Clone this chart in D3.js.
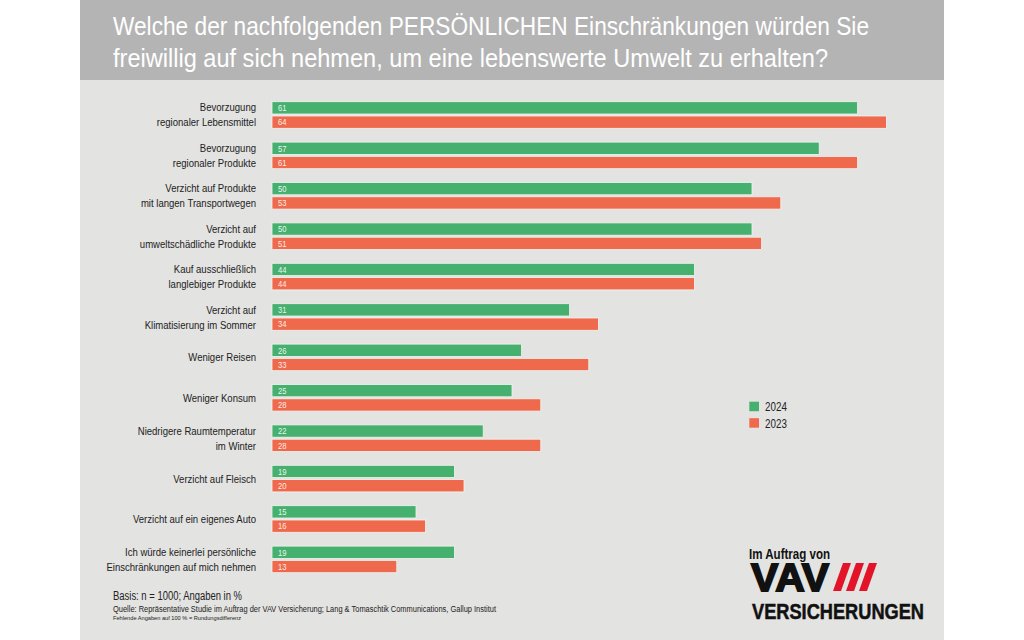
<!DOCTYPE html>
<html><head><meta charset="utf-8">
<script src="https://cdn.jsdelivr.net/npm/d3@7"></script>
<style>
html,body{margin:0;padding:0;background:#fff;}
svg{display:block;}
</style></head>
<body>
<svg id="c" width="1024" height="640"></svg>
<script>
const titleLines = ["Welche der nachfolgenden PERSÖNLICHEN Einschränkungen würden Sie",
                    "freiwillig auf sich nehmen, um eine lebenswerte Umwelt zu erhalten?"];
const categories = [
  ["Bevorzugung","regionaler Lebensmittel"],
  ["Bevorzugung","regionaler Produkte"],
  ["Verzicht auf Produkte","mit langen Transportwegen"],
  ["Verzicht auf","umweltschädliche Produkte"],
  ["Kauf ausschließlich","langlebiger Produkte"],
  ["Verzicht auf","Klimatisierung im Sommer"],
  ["Weniger Reisen"],
  ["Weniger Konsum"],
  ["Niedrigere Raumtemperatur","im Winter"],
  ["Verzicht auf Fleisch"],
  ["Verzicht auf ein eigenes Auto"],
  ["Ich würde keinerlei persönliche","Einschränkungen auf mich nehmen"]
];
const seriesNames = ["2024","2023"];
const values2024 = [61,57,50,50,44,31,26,25,22,19,15,19];
const values2023 = [64,61,53,51,44,34,33,28,28,20,16,13];
const footLines = ["Basis: n = 1000; Angaben in %",
  "Quelle: Repräsentative Studie im Auftrag der VAV Versicherung; Lang & Tomaschtik Communications, Gallup Institut",
  "Fehlende Angaben auf 100 % = Rundungsdifferenz"];

const colors = {"2024":"#46b06f","2023":"#ef6a4c"};
const narrow = "'Liberation Sans Narrow','Arial Narrow','Liberation Sans',sans-serif";

const svg = d3.select("#c");
svg.append("rect").attr("x",80).attr("y",0).attr("width",864).attr("height",640).attr("fill","#e3e3e1");
svg.append("rect").attr("x",80).attr("y",0).attr("width",864).attr("height",80).attr("fill","#b4b4b4");

function fitText(sel, w){
  sel.each(function(){
    const l=this.getComputedTextLength();
    if(l>0) d3.select(this).attr("textLength",w).attr("lengthAdjust","spacingAndGlyphs");
  });
}
// condensed text via horizontal scale transform
function ctext(parent, x, y, f, txt){
  return parent.append("text").attr("transform",`translate(${x},${y}) scale(${f},1)`).text(txt);
}

const tWidths=[756,715];
titleLines.forEach((t,i)=>{
  svg.append("text").attr("x",113).attr("y",35+i*32)
    .attr("font-family",narrow).attr("font-size",26).attr("fill","#fff").text(t)
    .call(fitText,tWidths[i]);
});

const data = categories.map((c,i)=>({cat:c,i:i,"2024":values2024[i],"2023":values2023[i]}));

const x = d3.scaleLinear().domain([0,100]).range([272,272+960]);
const y = d3.scaleBand().domain(d3.range(categories.length)).range([101.7,572.7]).paddingInner(0.3416).paddingOuter(0);
const ys = d3.scaleBand().domain(seriesNames).range([0,y.bandwidth()]).paddingInner(0.14).paddingOuter(0);

const g = svg.append("g");
const groups = g.selectAll("g.grp").data(data).join("g").attr("class","grp")
  .attr("transform",d=>`translate(0,${y(d.i)})`);

groups.selectAll("rect").data(d=>seriesNames.map(s=>({s:s,v:d[s]}))).join("rect")
  .attr("x",x(0)).attr("y",d=>ys(d.s)).attr("width",d=>x(d.v)-x(0)).attr("height",ys.bandwidth())
  .attr("fill",d=>colors[d.s]).attr("stroke","#f3f3f1").attr("stroke-width",0.8);

groups.each(function(d){
  const gg=d3.select(this);
  seriesNames.forEach(s=>{
    ctext(gg, x(0)+6, ys(s)+ys.bandwidth()/2+3.3, 0.82, d[s])
      .attr("font-family",narrow).attr("font-size",9.3).attr("fill","#fff").attr("fill-opacity",0.9);
  });
  const c=y.bandwidth()/2;
  const lines=d.cat;
  lines.forEach((t,k)=>{
    const by = lines.length===1 ? c+4 : c-3.5+k*15;
    ctext(gg, 256, by, 0.81, t).attr("text-anchor","end")
      .attr("font-family",narrow).attr("font-size",11.8).attr("fill","#222");
  });
});

const leg = svg.append("g");
seriesNames.forEach((s,i)=>{
  leg.append("rect").attr("x",749.3).attr("y",401.7+i*16.5).attr("width",9.7).attr("height",9.5).attr("fill",colors[s]);
  ctext(leg, 765, 411+i*16.5, 0.8, s).attr("font-family",narrow).attr("font-size",12.3).attr("fill","#222");
});

const fSizes=[12,8.5,6], fY=[600,611.5,620], fW=[129,383,128];
footLines.forEach((t,i)=>{
  svg.append("text").attr("x",113).attr("y",fY[i]).attr("font-family",narrow)
    .attr("font-size",fSizes[i]).attr("fill","#222").text(t).call(fitText,fW[i]);
});

const logo = svg.append("g");
logo.append("text").attr("x",749).attr("y",559).attr("font-family",narrow).attr("font-weight","bold")
  .attr("font-size",15).attr("fill","#111").text("Im Auftrag von").call(fitText,81);
logo.append("text").attr("transform","translate(751,591) scale(1,1.35)").attr("font-family",narrow).attr("font-weight","bold")
  .attr("font-size",29).attr("fill","#111").attr("stroke","#111").attr("stroke-width",1.3).text("VAV").call(fitText,78);
[0,1,2].forEach(k=>{
  const x0=833+k*13;
  logo.append("polygon").attr("points",
    `${x0},591 ${x0+8},591 ${x0+18},563 ${x0+10},563`).attr("fill","#e3132a");
});
logo.append("text").attr("x",752).attr("y",619).attr("font-family",narrow).attr("font-weight","bold")
  .attr("font-size",22).attr("fill","#111").attr("stroke","#111").attr("stroke-width",0.5).text("VERSICHERUNGEN").call(fitText,172);
</script>
</body></html>
